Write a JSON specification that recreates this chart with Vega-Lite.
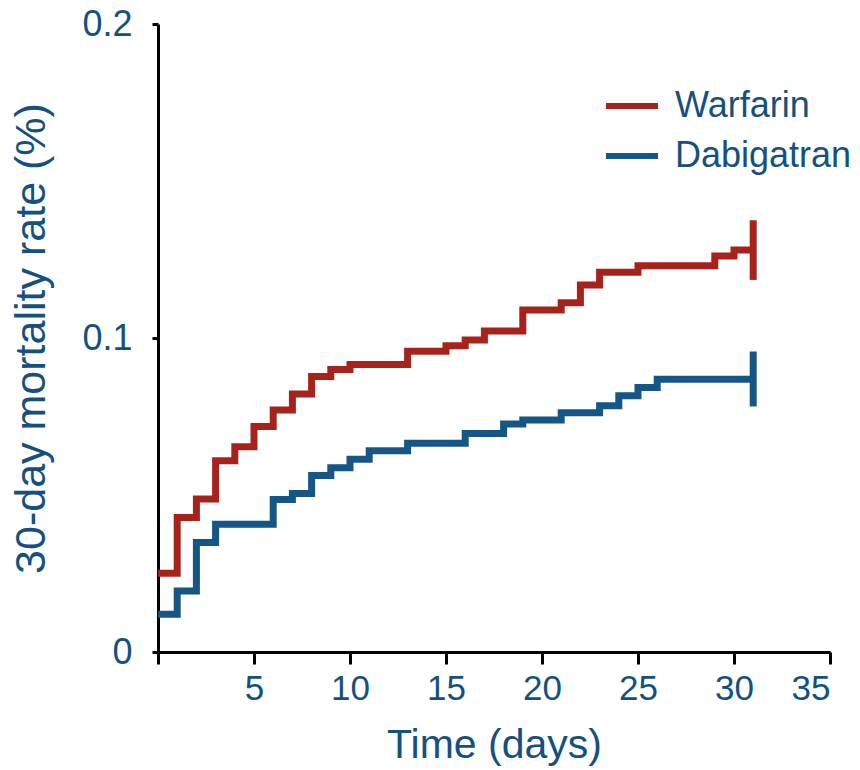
{
  "$schema": "https://vega.github.io/schema/vega-lite/v6.json",
  "width": 672,
  "height": 628,
  "autosize": "none",
  "padding": {"left": 158, "top": 24, "right": 30, "bottom": 118},
  "background": "white",
  "config": {
    "view": {"stroke": null},
    "font": "Liberation Sans",
    "axis": {
      "grid": false,
      "domainColor": "black",
      "domainWidth": 3,
      "tickColor": "black",
      "tickWidth": 3,
      "labelColor": "#15507f",
      "titleColor": "#15507f",
      "labelFont": "Liberation Sans",
      "titleFont": "Liberation Sans",
      "titleFontWeight": "normal"
    }
  },
  "datasets": {
    "curves": [
      {"day": 0, "rate": 0.0251, "group": "Warfarin"},
      {"day": 1, "rate": 0.0428, "group": "Warfarin"},
      {"day": 2, "rate": 0.0487, "group": "Warfarin"},
      {"day": 3, "rate": 0.0609, "group": "Warfarin"},
      {"day": 4, "rate": 0.0654, "group": "Warfarin"},
      {"day": 5, "rate": 0.0718, "group": "Warfarin"},
      {"day": 6, "rate": 0.0771, "group": "Warfarin"},
      {"day": 7, "rate": 0.0822, "group": "Warfarin"},
      {"day": 8, "rate": 0.0877, "group": "Warfarin"},
      {"day": 9, "rate": 0.0900, "group": "Warfarin"},
      {"day": 10, "rate": 0.0916, "group": "Warfarin"},
      {"day": 13, "rate": 0.0958, "group": "Warfarin"},
      {"day": 15, "rate": 0.0975, "group": "Warfarin"},
      {"day": 16, "rate": 0.0994, "group": "Warfarin"},
      {"day": 17, "rate": 0.1022, "group": "Warfarin"},
      {"day": 19, "rate": 0.1089, "group": "Warfarin"},
      {"day": 21, "rate": 0.1112, "group": "Warfarin"},
      {"day": 22, "rate": 0.1169, "group": "Warfarin"},
      {"day": 23, "rate": 0.1209, "group": "Warfarin"},
      {"day": 25, "rate": 0.1230, "group": "Warfarin"},
      {"day": 29, "rate": 0.1261, "group": "Warfarin"},
      {"day": 30, "rate": 0.1280, "group": "Warfarin"},
      {"day": 31, "rate": 0.1280, "group": "Warfarin"},
      {"day": 0, "rate": 0.0120, "group": "Dabigatran"},
      {"day": 1, "rate": 0.0194, "group": "Dabigatran"},
      {"day": 2, "rate": 0.0349, "group": "Dabigatran"},
      {"day": 3, "rate": 0.0407, "group": "Dabigatran"},
      {"day": 6, "rate": 0.0486, "group": "Dabigatran"},
      {"day": 7, "rate": 0.0505, "group": "Dabigatran"},
      {"day": 8, "rate": 0.0562, "group": "Dabigatran"},
      {"day": 9, "rate": 0.0587, "group": "Dabigatran"},
      {"day": 10, "rate": 0.0614, "group": "Dabigatran"},
      {"day": 11, "rate": 0.0641, "group": "Dabigatran"},
      {"day": 13, "rate": 0.0665, "group": "Dabigatran"},
      {"day": 16, "rate": 0.0696, "group": "Dabigatran"},
      {"day": 18, "rate": 0.0726, "group": "Dabigatran"},
      {"day": 19, "rate": 0.0739, "group": "Dabigatran"},
      {"day": 21, "rate": 0.0762, "group": "Dabigatran"},
      {"day": 23, "rate": 0.0784, "group": "Dabigatran"},
      {"day": 24, "rate": 0.0816, "group": "Dabigatran"},
      {"day": 25, "rate": 0.0842, "group": "Dabigatran"},
      {"day": 26, "rate": 0.0869, "group": "Dabigatran"},
      {"day": 31, "rate": 0.0869, "group": "Dabigatran"}
    ],
    "censor": [
      {"day": 31, "lo": 0.1185, "hi": 0.1375, "group": "Warfarin"},
      {"day": 31, "lo": 0.0782, "hi": 0.0957, "group": "Dabigatran"}
    ]
  },
  "layer": [
    {
      "data": {"name": "curves"},
      "mark": {"type": "line", "interpolate": "step-after", "strokeWidth": 7, "strokeCap": "butt", "strokeJoin": "miter"},
      "encoding": {
        "x": {
          "field": "day", "type": "quantitative",
          "scale": {"domain": [0, 35], "nice": false, "zero": false},
          "axis": {
            "values": [0, 5, 10, 15, 20, 25, 30, 35],
            "labelExpr": "datum.value == 0 ? '' : datum.label",
            "tickSize": 12,
            "labelPadding": 7,
            "labelFontSize": 35,
            "title": "Time (days)",
            "titleFontSize": 41,
            "titlePadding": 19
          }
        },
        "y": {
          "field": "rate", "type": "quantitative",
          "scale": {"domain": [0, 0.2], "nice": false},
          "axis": {
            "values": [0, 0.1, 0.2],
            "labelExpr": "datum.value == 0 ? '0' : format(datum.value, '.1f')",
            "tickSize": 6,
            "labelPadding": 20,
            "labelFontSize": 36,
            "title": "30-day mortality rate (%)",
            "titleFontSize": 43,
            "titlePadding": 28
          }
        },
        "color": {
          "field": "group", "type": "nominal",
          "scale": {"domain": ["Warfarin", "Dabigatran"], "range": ["#a8221c", "#155687"]},
          "legend": {
            "title": null,
            "orient": "none",
            "legendX": 445,
            "legendY": 53,
            "padding": 0,
            "symbolType": "stroke",
            "symbolSize": 2704,
            "symbolStrokeWidth": 6,
            "labelFontSize": 36,
            "labelFont": "Liberation Sans",
            "labelColor": "#15507f",
            "labelOffset": 14,
            "labelLimit": 0,
            "rowPadding": 3
          }
        }
      }
    },
    {
      "data": {"name": "censor"},
      "mark": {"type": "rule", "strokeWidth": 7},
      "encoding": {
        "x": {"field": "day", "type": "quantitative"},
        "y": {"field": "lo", "type": "quantitative"},
        "y2": {"field": "hi"},
        "color": {"field": "group", "type": "nominal"}
      }
    }
  ]
}
